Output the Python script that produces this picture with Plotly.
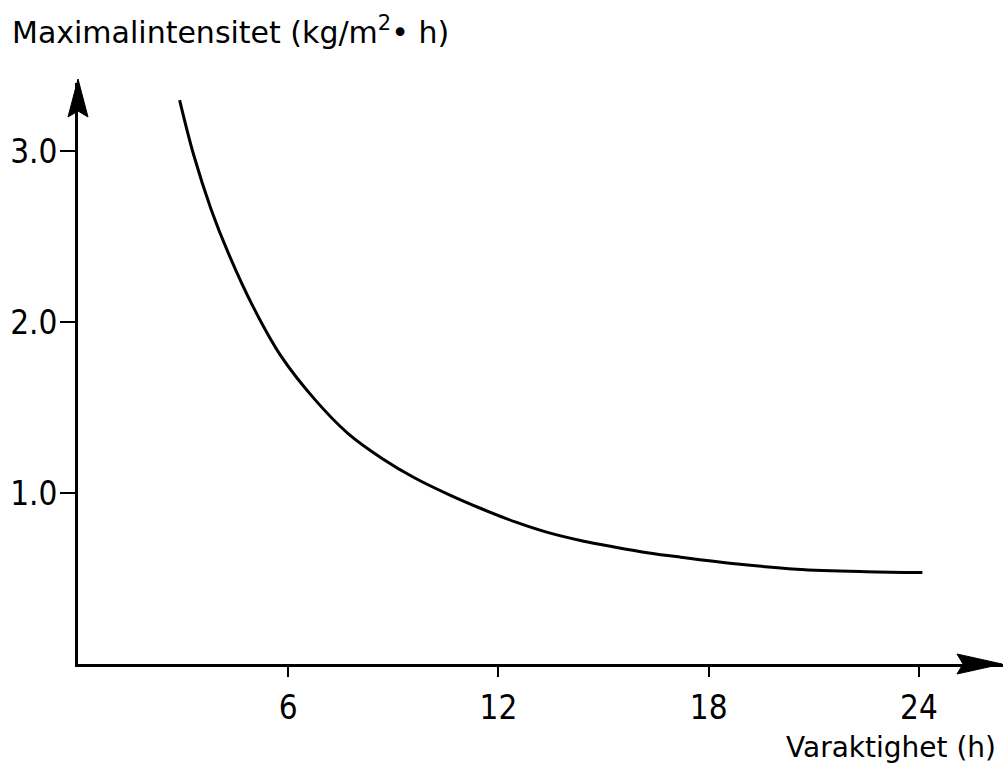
import plotly.graph_objects as go

# kurvan
varaktighet = [2.9, 3.3, 3.8, 4.3, 5.0, 5.8, 6.75, 7.7, 8.7, 9.6, 10.6, 11.5,
               12.5, 13.4, 14.4, 15.3, 16.3, 17.2, 18.6, 20.5, 22.5, 24.1]
intensitet = [3.30, 2.98, 2.66, 2.40, 2.09, 1.80, 1.55, 1.35, 1.20, 1.09, 0.99, 0.91,
              0.83, 0.77, 0.72, 0.685, 0.65, 0.625, 0.59, 0.555, 0.54, 0.535]

x_ticks = [6, 12, 18, 24]
y_ticks = [1.0, 2.0, 3.0]
y_ticklabels = ["1.0", "2.0", "3.0"]

x_max = 26.4
y_max = 3.4

tick_font = "DejaVu Sans Condensed, DejaVu Sans, sans-serif"
title_font = "DejaVu Sans, sans-serif"

fig = go.Figure()

fig.add_trace(go.Scatter(
    x=varaktighet, y=intensitet,
    mode="lines",
    line=dict(color="black", width=3, shape="spline", smoothing=1.0),
    hoverinfo="skip",
))

# pilspetsar på axlarna (i pixlar, ref till paper så att de inte klipps)
fig.add_shape(type="path", xref="paper", yref="paper", xsizemode="pixel", ysizemode="pixel",
              xanchor=1, yanchor=0, path="M-1,0 L-46,10 L-40,0 L-46,-10 Z",
              fillcolor="black", line=dict(color="black", width=1))
fig.add_shape(type="path", xref="paper", yref="paper", xsizemode="pixel", ysizemode="pixel",
              xanchor=0, yanchor=1, path="M0,4 L-10,-34 L0,-28 L10,-34 Z",
              fillcolor="black", line=dict(color="black", width=1))

# axeltitlar
fig.add_annotation(text="Maximalintensitet (kg/m<sup>2</sup>• h)",
                   xref="paper", yref="paper", x=-0.073, y=1.09,
                   xanchor="left", yanchor="middle", showarrow=False,
                   font=dict(size=30, color="black", family=title_font))
fig.add_annotation(text="Varaktighet (h)",
                   xref="paper", yref="paper", x=0.995, y=-0.112,
                   xanchor="right", yanchor="top", showarrow=False,
                   font=dict(size=28, color="black", family=title_font))

fig.update_xaxes(
    range=[0, x_max], tickvals=x_ticks, ticks="outside", ticklen=10, tickwidth=2,
    tickcolor="black", showline=True, linecolor="black", linewidth=3,
    showgrid=False, zeroline=False, ticklabelstandoff=2,
    tickfont=dict(size=33, color="black", family=tick_font),
)
fig.update_yaxes(
    range=[0, y_max], tickvals=y_ticks, ticktext=y_ticklabels, ticks="outside",
    ticklen=15, tickwidth=2, tickcolor="black", showline=True, linecolor="black",
    linewidth=3, showgrid=False, zeroline=False, ticklabelstandoff=-4,
    tickfont=dict(size=33, color="black", family=tick_font),
)

fig.update_layout(
    width=1005, height=764,
    margin=dict(l=78, r=2, t=83, b=100),
    plot_bgcolor="white", paper_bgcolor="white",
    showlegend=False,
)

fig.write_html("out.html", config={"displayModeBar": False},
               post_script="document.body.style.margin='0';")
